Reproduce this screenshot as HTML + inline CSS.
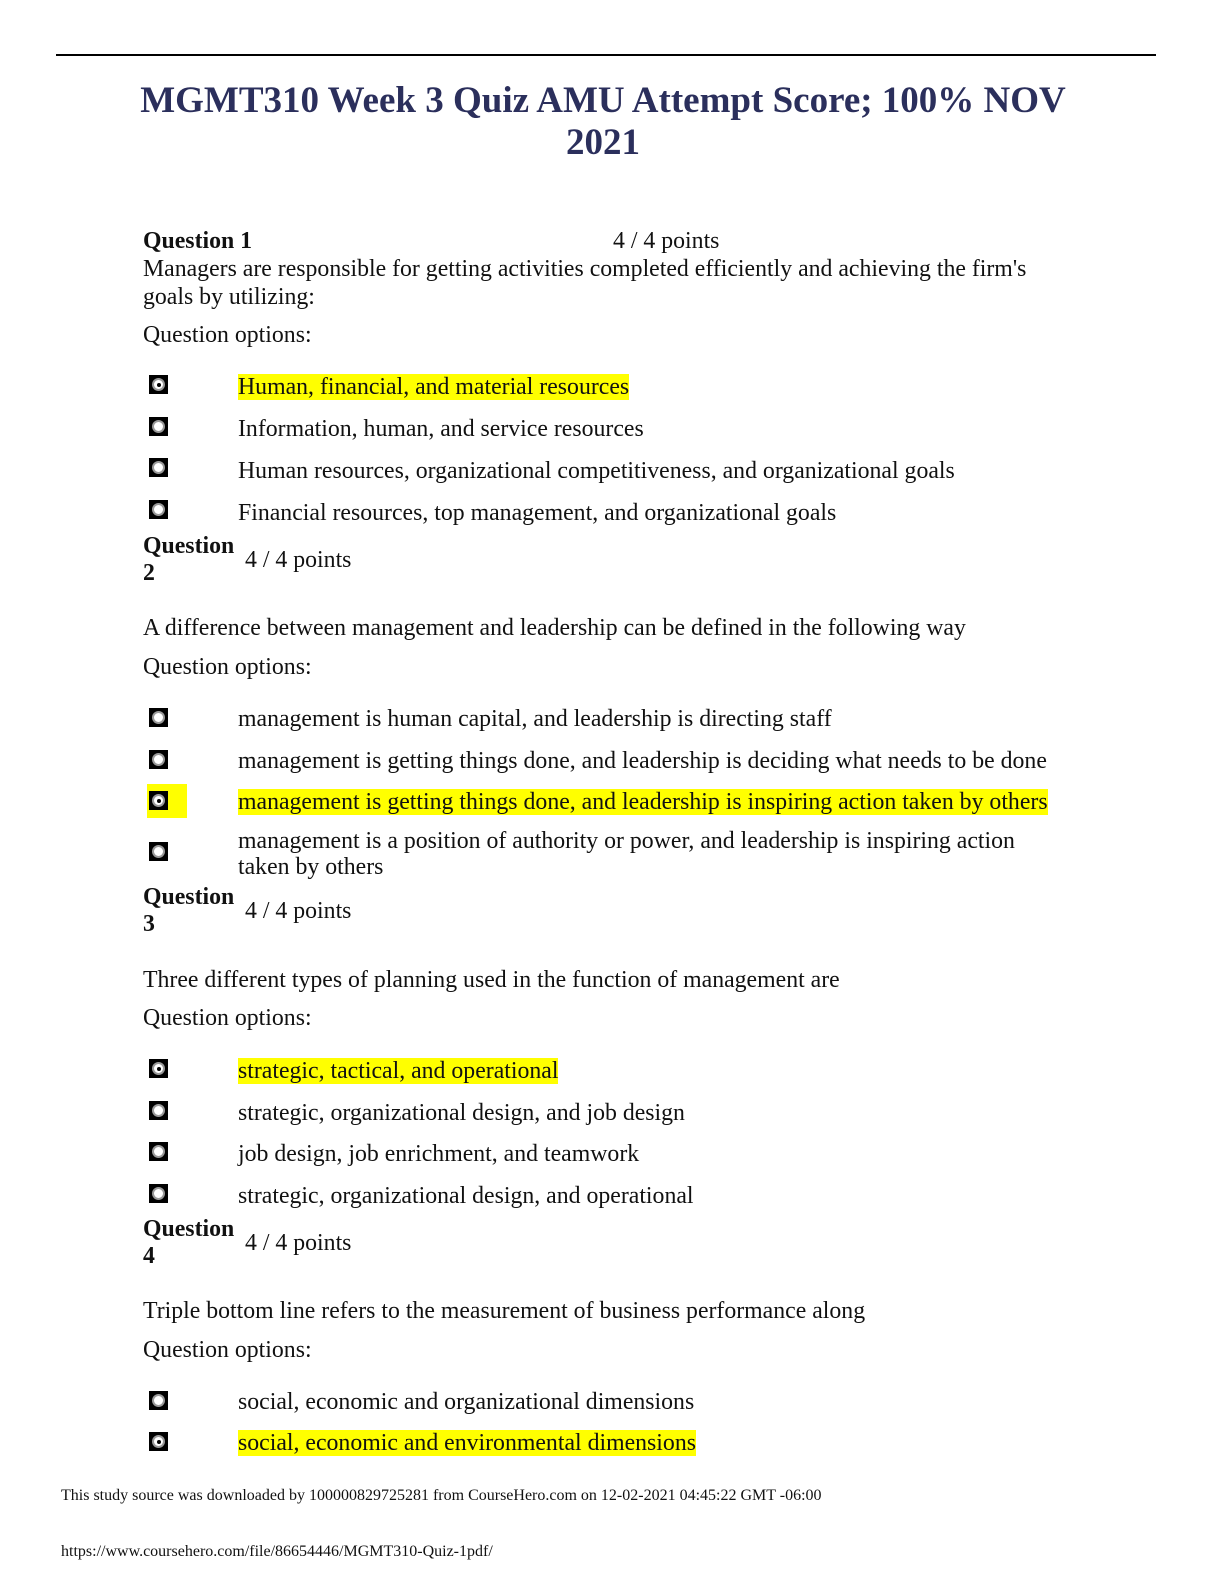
<!DOCTYPE html>
<html><head><meta charset="utf-8"><style>
body{margin:0;background:#fff;}
#p{position:relative;width:1224px;height:1584px;overflow:hidden;font-family:"Liberation Serif",serif;color:#111;}
.t{position:absolute;font-size:23.8px;line-height:26px;white-space:nowrap;}
.b{font-weight:bold;}
.h{background:#ffff00;}
.r{position:absolute;left:149px;width:19px;height:19px;background:#000;}
.r::after{content:"";position:absolute;left:3px;top:3px;width:9px;height:9px;border-radius:50%;background:#fff;border:2px solid #999;}
.r.s::before{content:"";position:absolute;left:8px;top:8px;width:4px;height:4px;border-radius:50%;background:#000;z-index:2;}
.f{position:absolute;font-size:16px;line-height:18px;white-space:nowrap;}
</style></head><body><div id="p">
<div style="position:absolute;left:56px;top:54px;width:1100px;height:2px;background:#000"></div>
<div style="position:absolute;left:0;width:1206px;top:80px;text-align:center;font-weight:bold;font-size:37px;line-height:42px;color:#2b2f5c">MGMT310 Week 3 Quiz AMU Attempt Score; 100% NOV<br>2021</div>

<div class="t b" style="left:143px;top:228px">Question 1</div>
<div class="t" style="left:613px;top:228px">4 / 4 points</div>
<div class="t" style="left:143px;top:256px">Managers are responsible for getting activities completed efficiently and achieving the firm's</div>
<div class="t" style="left:143px;top:284px">goals by utilizing:</div>
<div class="t" style="left:143px;top:322px">Question options:</div>
<div class="r s" style="top:375px"></div><div class="t" style="left:238px;top:374px"><span class="h">Human, financial, and material resources</span></div>
<div class="r" style="top:417px"></div><div class="t" style="left:238px;top:416px">Information, human, and service resources</div>
<div class="r" style="top:458px"></div><div class="t" style="left:238px;top:458px">Human resources, organizational competitiveness, and organizational goals</div>
<div class="r" style="top:500px"></div><div class="t" style="left:238px;top:500px">Financial resources, top management, and organizational goals</div>

<div class="t b" style="left:143px;top:533px">Question</div><div class="t b" style="left:143px;top:560px">2</div>
<div class="t" style="left:245px;top:547px">4 / 4 points</div>
<div class="t" style="left:143px;top:615px">A difference between management and leadership can be defined in the following way</div>
<div class="t" style="left:143px;top:654px">Question options:</div>
<div class="r" style="top:708px"></div><div class="t" style="left:238px;top:706px">management is human capital, and leadership is directing staff</div>
<div class="r" style="top:750px"></div><div class="t" style="left:238px;top:748px">management is getting things done, and leadership is deciding what needs to be done</div>
<div style="position:absolute;left:147px;top:784px;width:40px;height:34px;background:#ffff00"></div>
<div class="r s" style="top:791px"></div><div class="t" style="left:238px;top:789px"><span class="h">management is getting things done, and leadership is inspiring action taken by others</span></div>
<div class="r" style="top:842px"></div><div class="t" style="left:238px;top:828px">management is a position of authority or power, and leadership is inspiring action</div>
<div class="t" style="left:238px;top:854px">taken by others</div>

<div class="t b" style="left:143px;top:884px">Question</div><div class="t b" style="left:143px;top:911px">3</div>
<div class="t" style="left:245px;top:898px">4 / 4 points</div>
<div class="t" style="left:143px;top:967px">Three different types of planning used in the function of management are</div>
<div class="t" style="left:143px;top:1005px">Question options:</div>
<div class="r s" style="top:1059px"></div><div class="t" style="left:238px;top:1058px"><span class="h">strategic, tactical, and operational</span></div>
<div class="r" style="top:1101px"></div><div class="t" style="left:238px;top:1100px">strategic, organizational design, and job design</div>
<div class="r" style="top:1142px"></div><div class="t" style="left:238px;top:1141px">job design, job enrichment, and teamwork</div>
<div class="r" style="top:1184px"></div><div class="t" style="left:238px;top:1183px">strategic, organizational design, and operational</div>

<div class="t b" style="left:143px;top:1216px">Question</div><div class="t b" style="left:143px;top:1243px">4</div>
<div class="t" style="left:245px;top:1230px">4 / 4 points</div>
<div class="t" style="left:143px;top:1298px">Triple bottom line refers to the measurement of business performance along</div>
<div class="t" style="left:143px;top:1337px">Question options:</div>
<div class="r" style="top:1391px"></div><div class="t" style="left:238px;top:1389px">social, economic and organizational dimensions</div>
<div class="r s" style="top:1432px"></div><div class="t" style="left:238px;top:1430px"><span class="h">social, economic and environmental dimensions</span></div>

<div class="f" style="left:61px;top:1487px">This study source was downloaded by 100000829725281 from CourseHero.com on 12-02-2021 04:45:22 GMT -06:00</div>
<div class="f" style="left:61px;top:1543px">https://www.coursehero.com/file/86654446/MGMT310-Quiz-1pdf/</div>
</div></body></html>
